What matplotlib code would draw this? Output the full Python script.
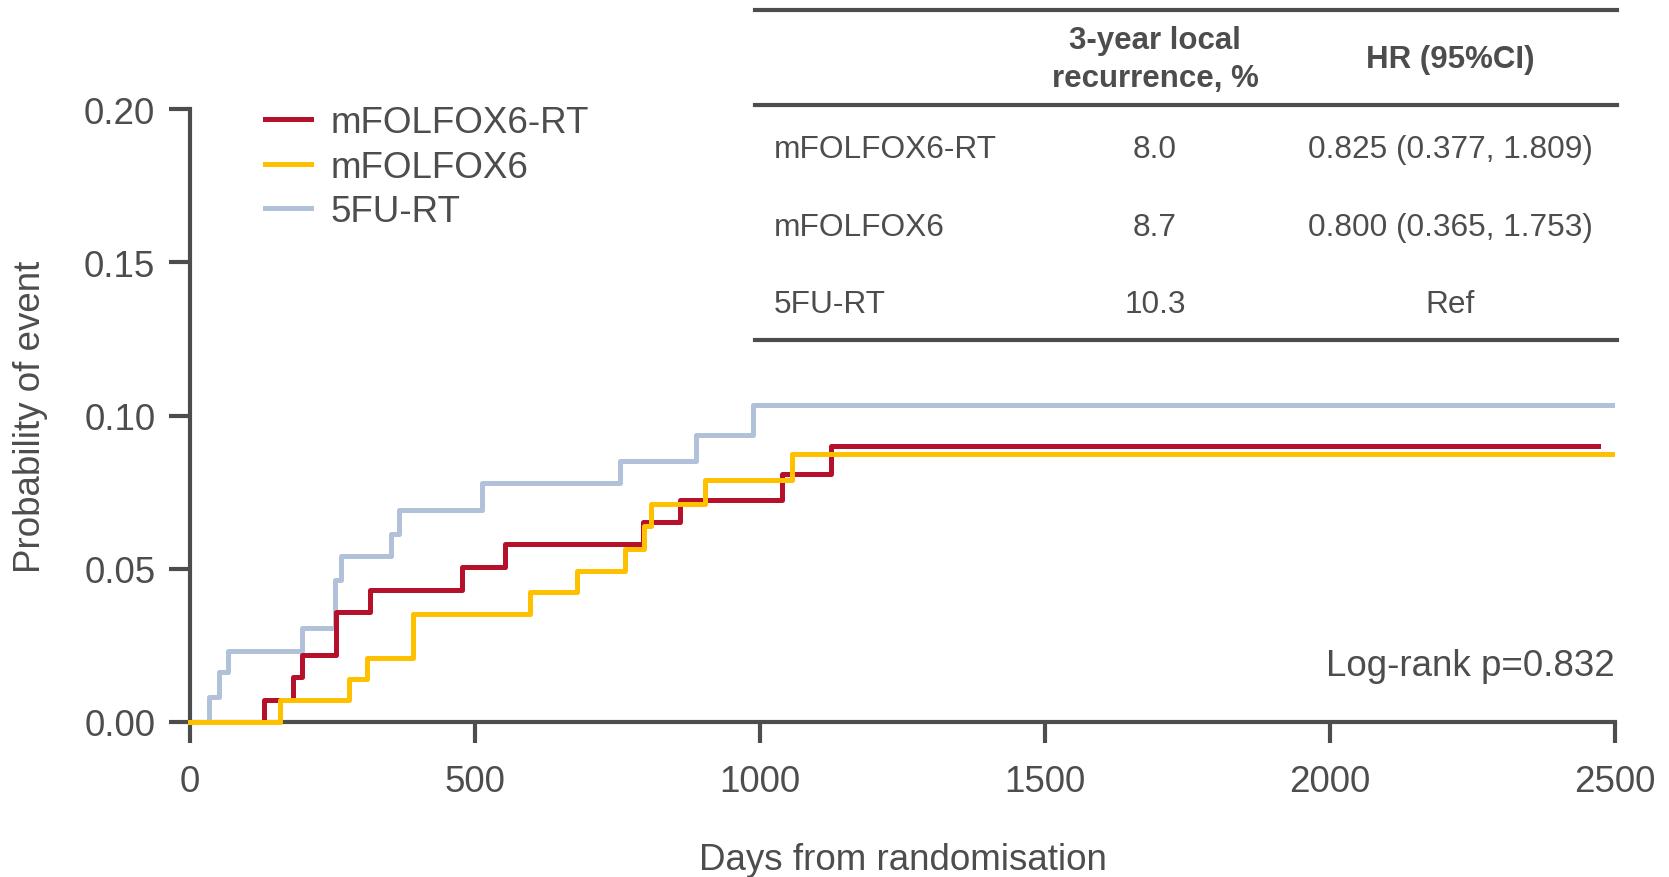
import matplotlib
matplotlib.use("Agg")
import matplotlib.pyplot as plt
from matplotlib.lines import Line2D

plt.rcParams['font.family'] = ['Liberation Sans', 'DejaVu Sans']

W, H = 1669, 878
grey = '#4d4d4d'

# cumulative incidence of local recurrence, step times in days
arms = ['mFOLFOX6-RT', 'mFOLFOX6', '5FU-RT']
colors = ['#b5112a', '#ffc000', '#b1c1da']
layers = [4, 5, 3]

t_rt = [0, 130, 181, 197, 257, 316, 477, 553, 795, 860, 1039, 1125, 2470]
p_rt = [0, 0.0073, 0.0147, 0.0217, 0.0359, 0.0431, 0.0505, 0.0582, 0.0652, 0.0725, 0.0808, 0.0899, 0.0899]

t_fx = [0, 158, 279, 310, 392, 597, 679, 763, 797, 809, 904, 1056, 2494]
p_fx = [0, 0.0072, 0.0139, 0.0210, 0.0351, 0.0424, 0.0494, 0.0563, 0.0641, 0.0710, 0.0788, 0.0873, 0.0873]

t_5fu = [0, 33, 51, 67, 196, 254, 265, 353, 367, 513, 754, 888, 987, 2494]
p_5fu = [0, 0.0082, 0.0163, 0.0232, 0.0308, 0.0464, 0.0543, 0.0614, 0.0693, 0.0779, 0.0853, 0.0935, 0.1033, 0.1033]

x_ticks = [0, 500, 1000, 1500, 2000, 2500]
y_ticks = [0.00, 0.05, 0.10, 0.15, 0.20]

# table beside the curves
tab_head = ['3-year local\nrecurrence, %', 'HR (95%CI)']
tab_rate = ['8.0', '8.7', '10.3']
tab_hr = ['0.825 (0.377, 1.809)', '0.800 (0.365, 1.753)', 'Ref']

fig = plt.figure(figsize=(W / 100, H / 100), dpi=100)
ax = fig.add_axes([190 / W, 1 - 723 / H, (1615 - 190) / W, (723 - 110) / H])

for t, p, c, name, z in zip([t_rt, t_fx, t_5fu], [p_rt, p_fx, p_5fu], colors, arms, layers):
    ax.step(t, p, where='post', color=c, lw=3.6, label=name, clip_on=False, zorder=z)

ax.set_xlim(0, 2500)
ax.set_ylim(0, 0.20)
ax.set_xticks(x_ticks)
ax.set_yticks(y_ticks)
ax.set_yticklabels([f'{v:.2f}' for v in y_ticks])

for s in ['top', 'right']:
    ax.spines[s].set_visible(False)
for s in ['left', 'bottom']:
    ax.spines[s].set_linewidth(3)
    ax.spines[s].set_color(grey)
ax.tick_params(width=3, length=15, color=grey, labelcolor=grey, labelsize=26.5)
ax.tick_params(axis='x', pad=15)
ax.tick_params(axis='y', pad=10)

ax.set_xlabel('Days from randomisation', fontsize=26.5, color=grey, labelpad=31)
ax.set_ylabel('Probability of event', fontsize=26.5, color=grey, labelpad=26)

leg = ax.legend(loc='upper left', bbox_to_anchor=(60 / (1615 - 190), 1.03), frameon=False,
                fontsize=26.5, handlelength=1.25, handletextpad=0.55, labelspacing=0.25,
                borderaxespad=0)
for txt in leg.get_texts():
    txt.set_color(grey)

ax.text(2500, 0.0183, 'Log-rank p=0.832', ha='right', va='center', fontsize=26.5, color=grey)


def fx(px):
    return px / W


def fy(py):
    return 1 - py / H


# table rules
for yy in [10.5, 106, 341]:
    fig.add_artist(Line2D([fx(755), fx(1617)], [fy(yy), fy(yy)], color=grey, lw=3))

fig.text(fx(1155), fy(60), tab_head[0], ha='center', va='center', fontsize=22.5,
         fontweight='bold', color=grey, linespacing=1.32)
fig.text(fx(1450), fy(60), tab_head[1], ha='center', va='center', fontsize=22.5,
         fontweight='bold', color=grey)

for i, yy in enumerate([150, 228, 305]):
    fig.text(fx(774), fy(yy), arms[i], ha='left', va='center', fontsize=22.8, color=grey)
    fig.text(fx(1155), fy(yy), tab_rate[i], ha='center', va='center', fontsize=22.8, color=grey)
    fig.text(fx(1450), fy(yy), tab_hr[i], ha='center', va='center', fontsize=22.8, color=grey)

fig.savefig('out.png', dpi=100, facecolor='white')
